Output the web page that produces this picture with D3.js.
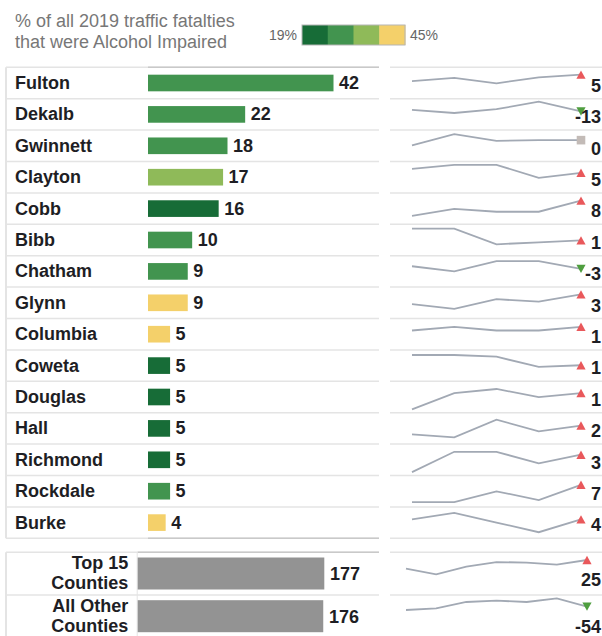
<!DOCTYPE html>
<html><head><meta charset="utf-8">
<script src="https://cdn.jsdelivr.net/npm/d3@7"></script>
<style>
html,body{margin:0;padding:0;background:#fff;}
svg{display:block;font-family:"Liberation Sans",Arial,sans-serif;}
</style></head>
<body>
<svg id="chart" width="602" height="636"></svg>
<script>
// ---------- data ----------
const counties = ["Fulton","Dekalb","Gwinnett","Clayton","Cobb","Bibb","Chatham","Glynn","Columbia","Coweta","Douglas","Hall","Richmond","Rockdale","Burke"];
const alcoholFatalities = [42,22,18,17,16,10,9,9,5,5,5,5,5,5,4];
const pctAlcohol = [30,29,29,35,21,29,30,41,42,23,23,22,21,29,40];
const changes = [5,-13,0,5,8,1,-3,3,1,1,1,2,3,7,4];
const trendYears = [2015,2016,2017,2018,2019];
const trendValues = [
  [128,134,124,135,140],
  [77,73,78,88,75],
  [55,70,61,62,62],
  [52,56,56,43,48],
  [64,69,67,67,75],
  [41,41,33,34,35],
  [31,29,33,33,30],
  [18,16,20,19,22],
  [11,12,11,11,12],
  [28,28,27,21,22],
  [18,22,23,21,22],
  [20,19,25,21,23],
  [18,25,25,21,24],
  [9,9,14,10,17],
  [10,12,9,6,10]
];
// independent axis ranges of each sparkline (data units)
const trendAxisLow  = [100.1,53.5,36.8,30.3,59.7,28.4,23.9,13.0,6.4,14.0,17.75,17.5,17.66,7.94,4.86];
const trendAxisHigh = [149.7,89.3,72.7,57.3,79.1,42.2,34.3,24.2,13.7,29.8,24.4,26.7,26.97,20.36,13.24];

const totalLabels = [["Top 15","Counties"],["All Other","Counties"]];
const totalValues = [177,176];
const totalChanges = [25,-54];
const totalYears = [2013,2014,2015,2016,2017,2018,2019];
const totalTrend = [
  [571,540,581,606,603,592,617],
  [852,863,904,913,904,928,874]
];
const totalAxisLow  = [443.3,689.7];
const totalAxisHigh = [647.6,936.4];

const titleLines = ["% of all 2019 traffic fatalties","that were Alcohol Impaired"];
const legendColors = ["#176c37","#42944f","#8fba59","#f4d06a"];
const legendDomain = [19,45];
const legendLabels = ["19%","45%"];

// ---------- setup ----------
const svg = d3.select("#chart");
const textCol = "#1e1e24";
const lineLight = "#e4e4e4", lineDark = "#c9c9c9";
const colorScale = d3.scaleQuantize().domain(legendDomain).range(legendColors);

// header
svg.append("g").selectAll("text").data(titleLines).join("text")
  .attr("x", 15).attr("y", (d,i)=>27 + i*20.5)
  .attr("font-size", 18).attr("fill", "#777").text(d=>d);

const legX = d3.scaleBand().domain(d3.range(legendColors.length)).range([302,405]);
const lg = svg.append("g");
lg.selectAll("rect").data(legendColors).join("rect")
  .attr("x",(d,i)=>legX(i)).attr("y",25).attr("width",legX.bandwidth()+0.5).attr("height",20)
  .attr("fill",d=>d);
lg.append("rect").attr("x",302).attr("y",25).attr("width",103).attr("height",20)
  .attr("fill","none").attr("stroke","#b5b5b5").attr("stroke-width",1);
lg.append("text").attr("x",297).attr("y",40).attr("text-anchor","end")
  .attr("font-size",14).attr("fill","#666").text(legendLabels[0]);
lg.append("text").attr("x",410).attr("y",40)
  .attr("font-size",14).attr("fill","#666").text(legendLabels[1]);

// ---------- main table ----------
const top0 = 67.3, step = 31.4;
const y = d3.scaleBand().domain(counties).range([top0, top0 + step*counties.length]).padding(0);
const x = d3.scaleLinear().domain([0, d3.max(alcoholFatalities)]).range([148, 333.5]);

const grid = svg.append("g");
const bounds = d3.range(counties.length + 1).map(i => top0 + i*step);
grid.selectAll(".hl").data(bounds).join("line")
  .attr("x1",6).attr("x2",379).attr("y1",d=>d).attr("y2",d=>d)
  .attr("stroke",lineLight).attr("stroke-width",1.5);
grid.selectAll(".hr").data(bounds).join("line")
  .attr("x1",390).attr("x2",602).attr("y1",d=>d).attr("y2",d=>d)
  .attr("stroke",lineLight).attr("stroke-width",1.5);
grid.selectAll(".hd").data([bounds[0], bounds[bounds.length-1]]).join("line")
  .attr("x1",148).attr("x2",379).attr("y1",d=>d).attr("y2",d=>d)
  .attr("stroke",lineDark).attr("stroke-width",1.5);
grid.append("line").attr("x1",6).attr("x2",6).attr("y1",bounds[0]).attr("y2",bounds[bounds.length-1])
  .attr("stroke",lineLight).attr("stroke-width",2);

const rows = svg.append("g").selectAll("g").data(counties).join("g");
rows.append("text").attr("x",15).attr("y",d=>y(d)+step/2+6)
  .attr("font-size",18).attr("font-weight","bold").attr("fill",textCol).text(d=>d);
rows.append("rect")
  .attr("x",x(0)).attr("y",d=>y(d)+step*0.235)
  .attr("width",(d,i)=>x(alcoholFatalities[i])-x(0)).attr("height",step*0.53)
  .attr("fill",(d,i)=>colorScale(pctAlcohol[i]));
rows.append("text").attr("x",(d,i)=>x(alcoholFatalities[i])+5.5).attr("y",d=>y(d)+step/2+6)
  .attr("font-size",18).attr("font-weight","bold").attr("fill",textCol)
  .text((d,i)=>alcoholFatalities[i]);

// sparklines
const upTri = {draw(ctx){const w=4.6,h=4.2;ctx.moveTo(0,-h);ctx.lineTo(w,h);ctx.lineTo(-w,h);ctx.closePath();}};
const downTri = {draw(ctx){const w=4.6,h=4.2;ctx.moveTo(0,h);ctx.lineTo(w,-h);ctx.lineTo(-w,-h);ctx.closePath();}};
const sq = {draw(ctx){const a=4.3;ctx.rect(-a,-a,2*a,2*a);}};
function marker(g, cx, cy, ch){
  const type = ch>0?upTri:(ch<0?downTri:sq);
  const col = ch>0?"#e9585b":(ch<0?"#4f9e3f":"#c3bbb7");
  g.append("path").attr("d", d3.symbol().type(type)()).attr("transform",`translate(${cx},${cy})`).attr("fill",col);
}
const sx = d3.scalePoint().domain(trendYears).range([412,581]);
const lineCol = "#a2a9b4";
counties.forEach((c,i)=>{
  const vals = trendValues[i];
  const t = y(c);
  const sy = d3.scaleLinear().domain([trendAxisLow[i], trendAxisHigh[i]]).range([t+29, t+2]);
  const g = svg.append("g");
  g.append("path").datum(vals)
    .attr("d", d3.line().x((d,j)=>sx(trendYears[j])).y(d=>sy(d)))
    .attr("fill","none").attr("stroke",lineCol).attr("stroke-width",1.8);
  marker(g, sx(trendYears[trendYears.length-1]), sy(vals[vals.length-1]), changes[i]);
  g.append("text").attr("x",601).attr("y",t+24.5).attr("text-anchor","end")
    .attr("font-size",18).attr("font-weight","bold").attr("fill",textCol).text(changes[i]);
});

// ---------- totals ----------
const tTop = 552.3, tStep = 42.7;
const ty = d3.scaleBand().domain(d3.range(totalValues.length)).range([tTop, tTop + tStep*totalValues.length]).padding(0);
const tx = d3.scaleLinear().domain([0, d3.max(totalValues)]).range([137.7, 324.3]);
const tb = d3.range(totalValues.length + 1).map(i => tTop + i*tStep);
const tg = svg.append("g");
tg.selectAll(".l").data(tb).join("line")
  .attr("x1",6).attr("x2",379).attr("y1",d=>d).attr("y2",d=>d).attr("stroke",lineLight).attr("stroke-width",1.5);
tg.selectAll(".r").data(tb).join("line")
  .attr("x1",390).attr("x2",602).attr("y1",d=>d).attr("y2",d=>d).attr("stroke",lineLight).attr("stroke-width",1.5);
tg.append("line").attr("x1",137.7).attr("x2",379).attr("y1",tTop).attr("y2",tTop).attr("stroke",lineDark).attr("stroke-width",1.5);
tg.append("line").attr("x1",6).attr("x2",6).attr("y1",tTop).attr("y2",636).attr("stroke",lineLight).attr("stroke-width",2);
tg.append("line").attr("x1",137.2).attr("x2",137.2).attr("y1",tTop).attr("y2",636).attr("stroke",lineLight).attr("stroke-width",1);

const tsx = d3.scalePoint().domain(totalYears).range([406,587]);
totalValues.forEach((v,i)=>{
  const t = ty(i);
  const g = tg.append("g");
  g.append("text").attr("text-anchor","end").attr("font-size",18).attr("font-weight","bold").attr("fill",textCol)
    .selectAll("tspan").data(totalLabels[i]).join("tspan")
    .attr("x",128.3).attr("y",(d,k)=>t+17 + k*20).text(d=>d);
  g.append("rect").attr("x",tx(0)).attr("y",t+5.2).attr("width",tx(v)-tx(0)).attr("height",32)
    .attr("fill","#939393");
  g.append("text").attr("x",tx(v)+5.7).attr("y",t+tStep/2+6.5)
    .attr("font-size",18).attr("font-weight","bold").attr("fill",textCol).text(v);
  const vals = totalTrend[i];
  const sy = d3.scaleLinear().domain([totalAxisLow[i], totalAxisHigh[i]]).range([t+40, t+2]);
  g.append("path").datum(vals)
    .attr("d", d3.line().x((d,j)=>tsx(totalYears[j])).y(d=>sy(d)))
    .attr("fill","none").attr("stroke",lineCol).attr("stroke-width",1.8);
  const my = sy(vals[vals.length-1]);
  marker(g, tsx(totalYears[totalYears.length-1]), my, totalChanges[i]);
  g.append("text").attr("x",601).attr("y",Math.min(my+26, 634)).attr("text-anchor","end")
    .attr("font-size",18).attr("font-weight","bold").attr("fill",textCol).text(totalChanges[i]);
});
</script>
</body></html>
